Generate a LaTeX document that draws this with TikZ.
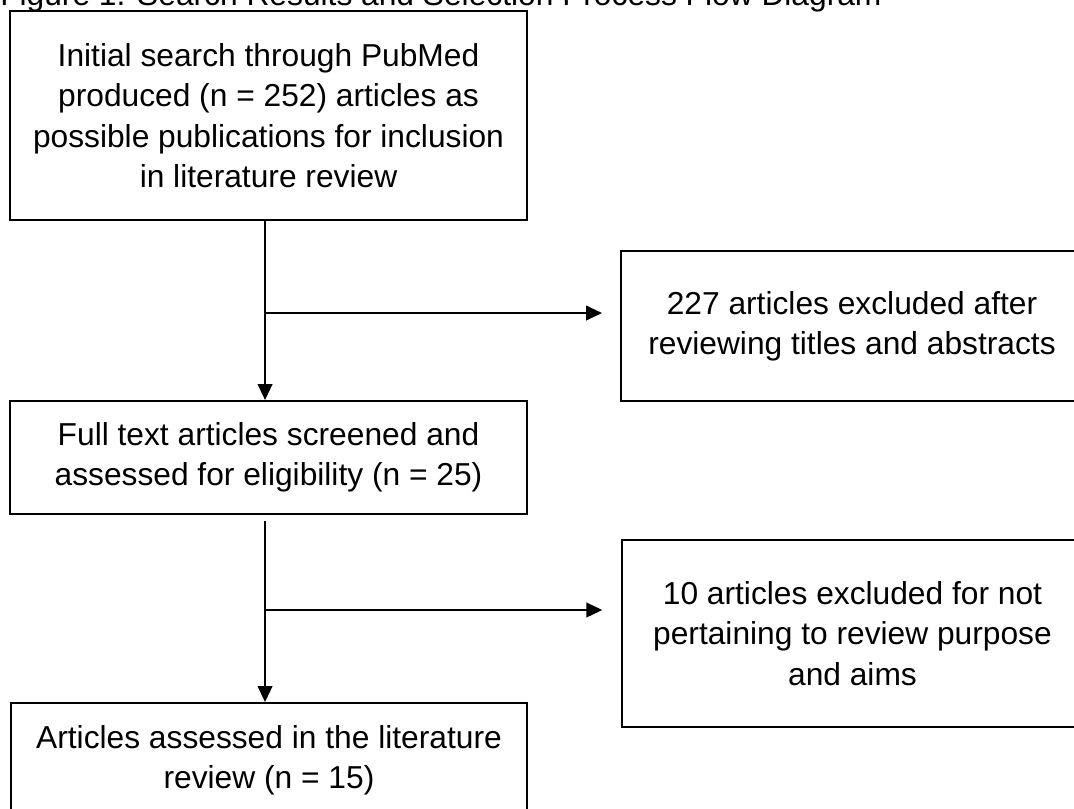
\documentclass[tikz,border=0pt]{standalone}
\usepackage{fontspec}
\setmainfont{Liberation Sans}
\usetikzlibrary{arrows.meta}
\begin{document}
\begin{tikzpicture}[x=0.75pt,y=-0.75pt,
  box/.style={draw=black, line width=1.5pt, fill=white, align=center, inner sep=0pt,
    font=\fontsize{23.8}{30.3}\selectfont, execute at begin node={\rule{0pt}{27.5pt}}},
  arr/.style={line width=1.5pt, -{Triangle[length=12pt,width=11pt]}}]
\useasboundingbox (0,0) rectangle (1074,808);
\node[anchor=base west, inner sep=0pt, font=\fontsize{23.8}{30}\selectfont] (title) at (0,5.5)
  {Figure 1. Search Results and Selection Process Flow Diagram};
\node[box, minimum width=517*0.75pt, minimum height=209*0.75pt] (init) at (268.5,115.5)
  {Initial search through PubMed\\produced (n = 252) articles as\\possible publications for inclusion\\in literature review};
\node[box, minimum width=462*0.75pt, minimum height=150*0.75pt] (excl1) at (852,326)
  {227 articles excluded after\\reviewing titles and abstracts};
\node[box, minimum width=517*0.75pt, minimum height=113*0.75pt] (full) at (268.5,457.5)
  {Full text articles screened and\\assessed for eligibility (n = 25)};
\node[box, minimum width=461*0.75pt, minimum height=187*0.75pt] (excl2) at (852.5,633.5)
  {10 articles excluded for not\\pertaining to review purpose\\and aims};
\node[box, minimum width=516*0.75pt, minimum height=114*0.75pt] (final) at (269,760)
  {Articles assessed in the literature\\review (n = 15)};
\coordinate (t1) at ([xshift=-2.6pt]init.south);
\coordinate (t2) at ([xshift=-2.6pt]full.south);
\coordinate (b1) at (t1 |- 0,313);
\coordinate (b2) at (t2 |- 0,610);
\draw[arr] (t1) -- (t1 |- full.north);
\draw[arr, shorten >=13.5pt] (b1) -- (b1 -| excl1.west);
\draw[arr, shorten <=4.5pt] (t2) -- (t2 |- final.north);
\draw[arr, shorten >=14pt] (b2) -- (b2 -| excl2.west);
\end{tikzpicture}
\end{document}
